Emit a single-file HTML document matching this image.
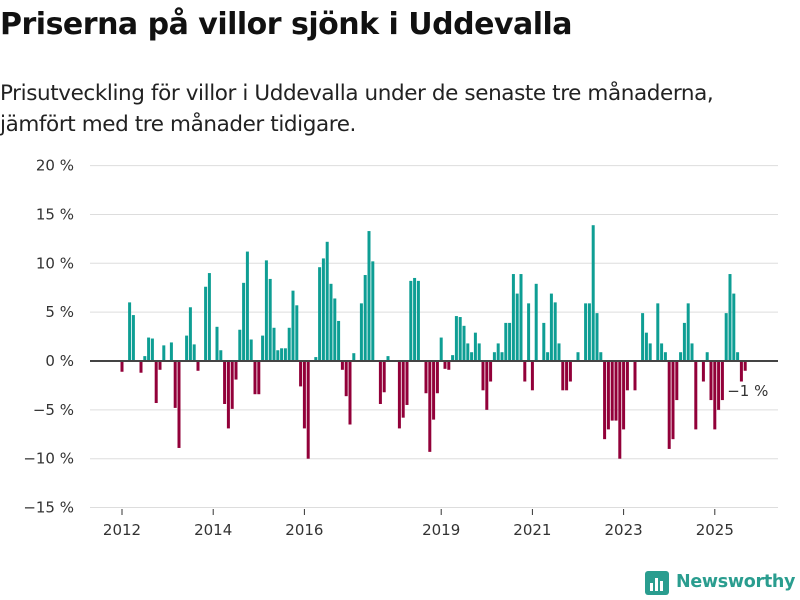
<!DOCTYPE html>
<html><head><meta charset="utf-8"><style>
body{margin:0;width:800px;height:600px;background:#fff;font-family:"Liberation Sans","DejaVu Sans",sans-serif;overflow:hidden;position:relative}
#title{position:absolute;left:0;top:7px;font-size:30px;font-weight:bold;color:#111;font-family:"DejaVu Sans","Liberation Sans",sans-serif;letter-spacing:-0.5px}
#sub{position:absolute;left:0;top:78px;font-size:21.5px;line-height:31px;color:#222;font-family:"DejaVu Sans","Liberation Sans",sans-serif;letter-spacing:-0.4px}
#logo{position:absolute;left:645px;top:569px;display:flex;align-items:center;gap:7px;color:#2a9d8f;font-weight:bold;font-size:17.5px;font-family:"DejaVu Sans",sans-serif;letter-spacing:-0.3px}
</style></head><body>
<div id="title">Priserna på villor sjönk i Uddevalla</div>
<div id="sub">Prisutveckling för villor i Uddevalla under de senaste tre månaderna,<br>jämfört med tre månader tidigare.</div>
<svg id="chart" width="800" height="600" style="position:absolute;left:0;top:0"></svg>
<div id="logo"><svg width="24" height="26"><rect x="0" y="2" width="24" height="24" rx="3" fill="#2a9d8f"/><rect x="5" y="14" width="3" height="8" fill="#fff"/><rect x="10" y="9" width="3" height="13" fill="#fff"/><rect x="15" y="12" width="3" height="10" fill="#fff"/></svg><span>Newsworthy</span></div>
<script>
// month index 0 = Jan 2012
const values = {
0:-1.1,2:6.0,3:4.7,5:-1.2,6:0.5,7:2.4,8:2.3,9:-4.3,10:-0.9,11:1.6,13:1.9,14:-4.8,15:-8.9,17:2.6,18:5.5,19:1.7,20:-1.0,22:7.6,23:9.0,25:3.5,26:1.1,27:-4.4,28:-6.9,29:-4.9,30:-1.9,31:3.2,32:8.0,33:11.2,34:2.2,35:-3.4,36:-3.4,37:2.6,38:10.3,39:8.4,40:3.4,41:1.1,42:1.3,43:1.3,44:3.4,45:7.2,46:5.7,47:-2.6,48:-6.9,49:-10.0,50:0.1,51:0.4,52:9.6,53:10.5,54:12.2,55:7.9,56:6.4,57:4.1,58:-0.9,59:-3.6,60:-6.5,61:0.8,62:-0.1,63:5.9,64:8.8,65:13.3,66:10.2,68:-4.4,69:-3.2,70:0.5,73:-6.9,74:-5.8,75:-4.5,76:8.2,77:8.5,78:8.2,80:-3.3,81:-9.3,82:-6.0,83:-3.3,84:2.4,85:-0.8,86:-0.9,87:0.6,88:4.6,89:4.5,90:3.6,91:1.8,92:0.9,93:2.9,94:1.8,95:-3.0,96:-5.0,97:-2.1,98:0.9,99:1.8,100:0.9,101:3.9,102:3.9,103:8.9,104:6.9,105:8.9,106:-2.1,107:5.9,108:-3.0,109:7.9,111:3.9,112:0.9,113:6.9,114:6.0,115:1.8,116:-3.0,117:-3.0,118:-2.1,120:0.9,122:5.9,123:5.9,124:13.9,125:4.9,126:0.9,127:-8.0,128:-7.0,129:-6.1,130:-6.1,131:-10.0,132:-7.0,133:-3.0,135:-3.0,137:4.9,138:2.9,139:1.8,141:5.9,142:1.8,143:0.9,144:-9.0,145:-8.0,146:-4.0,147:0.9,148:3.9,149:5.9,150:1.8,151:-7.0,153:-2.1,154:0.9,155:-4.0,156:-7.0,157:-5.0,158:-4.0,159:4.9,160:8.9,161:6.9,162:0.9,163:-2.1,164:-1.0};
const monthCount = 165;
const yTicks = [20,15,10,5,0,-5,-10,-15];
const yTickLabels = ["20 %","15 %","10 %","5 %","0 %","−5 %","−10 %","−15 %"];
const xTickYears = [2012,2014,2016,2019,2021,2023,2025];
const lastLabel = "−1 %";

const NS="http://www.w3.org/2000/svg";
const svg=document.getElementById('chart');
const y=v=>361-v*9.77;
const x=i=>122+i*3.8;
function mk(t,a){const e=document.createElementNS(NS,t);for(const k in a)e.setAttribute(k,a[k]);svg.appendChild(e);return e;}
yTicks.forEach((t,k)=>{
  const l=mk('line',{x1:90,x2:778,y1:y(t),y2:y(t),stroke:'#ddd','stroke-width':1});
  
  
  const tx=mk('text',{x:74,y:y(t)+5,'text-anchor':'end','font-size':15,fill:'#333','font-family':'DejaVu Sans, sans-serif'});
  tx.textContent=yTickLabels[k];
  
  
});
xTickYears.forEach(yr=>{
  const i=(yr-2012)*12;
  const l=mk('line',{x1:x(i),x2:x(i),y1:509,y2:515,stroke:'#333'});
  
  
  const tx=mk('text',{x:x(i),y:535,'text-anchor':'middle','font-size':15,fill:'#333','font-family':'DejaVu Sans, sans-serif'});
  tx.textContent=yr;
  
  
});
for(let i=0;i<monthCount;i++){
  const v=values[i]||0; if(!v) continue;
  const r=mk('rect',{x:x(i)-1.5,width:3,y:Math.min(y(v),361),height:Math.abs(y(v)-361),fill:v>0?'#0e9e94':'#920039'});
  
  
}
const z=mk('line',{x1:90,x2:778,y1:361,y2:361,stroke:'#444','stroke-width':2});


const lb=mk('text',{x:x(monthCount-1)-18,y:396,'font-size':15,fill:'#333','font-family':'DejaVu Sans, sans-serif'});
lb.textContent=lastLabel;


</script>
</body></html>
